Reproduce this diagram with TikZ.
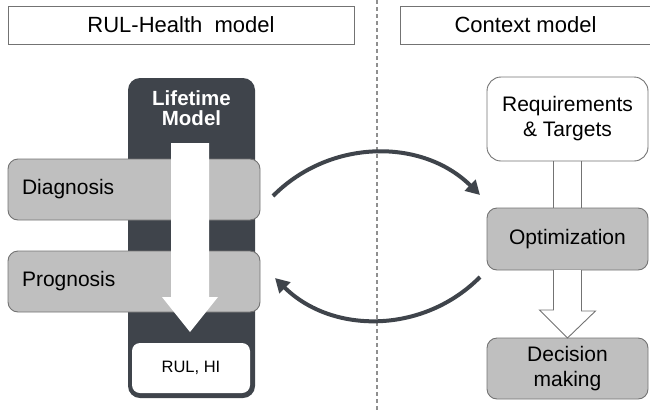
\documentclass[tikz,border=0pt]{standalone}
\usepackage{fontspec}
\setmainfont{Liberation Sans}
\usetikzlibrary{arrows.meta}
\definecolor{darkcol}{HTML}{3F444B}
\definecolor{boxgrey}{HTML}{BFBFBF}
\definecolor{edgegrey}{HTML}{737373}
\definecolor{dashgrey}{HTML}{8F8F8F}
\begin{document}
\begin{tikzpicture}[x=1pt,y=1pt,
  every node/.style={inner sep=0pt, outer sep=0pt, font=\fontsize{21}{25}\selectfont, text=black},
  titlebox/.style={draw=edgegrey, line width=1pt, minimum height=38pt, font=\fontsize{22}{25}\selectfont},
  greybox/.style={draw=edgegrey, fill=boxgrey, line width=0.9pt, rounded corners=10pt},
  whitebox/.style={draw=edgegrey, fill=white, line width=0.9pt, rounded corners=14pt},
  dashline/.style={draw=dashgrey, line width=1.4pt, dash pattern=on 4pt off 3pt},
  hollowedge/.style={draw=edgegrey, line width=0.9pt, fill=white},
  bigarrow/.style={draw=darkcol, line width=4pt, -{Triangle[length=14pt,width=15pt]}}
]
\useasboundingbox (0,0) rectangle (650,-410);

% titles
\node[titlebox, minimum width=346pt] (titleL) at (181,-25) {RUL-Health\ \ model};
\node[titlebox, minimum width=251pt] (titleR) at (525.5,-25) {Context model};

% separator
\coordinate (dtop) at (377,0);
\coordinate (dbot) at (377,-410);
\draw[dashline] (dtop) -- (dbot);

% lifetime column
\node[fill=darkcol, rounded corners=12pt, minimum width=127pt, minimum height=320pt] (col) at (191.5,-238) {};
\node[font=\bfseries\fontsize{20.5}{20.3}\selectfont, text=white, align=center] (lt) at (191.5,-108.5) {Lifetime\\Model};

% diagnosis / prognosis
\node[greybox, minimum width=252pt, minimum height=61pt, text width=224pt, inner xsep=14pt, align=left] (diag) at (134,-189.5) {Diagnosis};
\node[greybox, minimum width=252pt, minimum height=61pt, text width=224pt, inner xsep=14pt, align=left] (prog) at (134,-281.5) {Prognosis};

% white arrow
\path[fill=white] (171,-143) -- (209,-143) -- (209,-297) -- (218,-297) -- (190,-332) -- (162,-297) -- (171,-297) -- cycle;

% RUL box
\node[fill=white, rounded corners=8pt, minimum width=118pt, minimum height=50pt, font=\fontsize{16.5}{20}\selectfont] (rul) at (191,-368) {RUL, HI};

% right side
\node[whitebox, minimum width=161pt, minimum height=84pt, align=center] (req) at (567.5,-119) {Requirements\\\& Targets};
\node[greybox, minimum width=161pt, minimum height=62pt] (opt) at (567.5,-239) {Optimization};
\node[greybox, minimum width=161pt, minimum height=61pt, align=center] (dec) at (567.5,-368.5) {Decision\\making};

\draw[hollowedge] ([xshift=-14pt]req.south) -- ([xshift=-14pt]opt.north);
\draw[hollowedge] ([xshift=14pt]req.south) -- ([xshift=14pt]opt.north);
\draw[hollowedge, line join=miter] ([xshift=-14pt]opt.south) -- ++(0,-40) -- ++(-14,0) -- (dec.north) -- ([xshift=28pt,yshift=27pt]dec.north) -- ++(-14,0) -- ([xshift=14pt]opt.south);

% curved arrows
\coordinate (a1s) at (273,-196);
\coordinate (a1e) at (480,-195);
\coordinate (a2s) at (480,-277);
\coordinate (a2e) at (275,-278);
\draw[bigarrow] (a1s) to[bend left=45] (a1e);
\draw[bigarrow] (a2s) to[bend left=45] (a2e);
\end{tikzpicture}
\end{document}
